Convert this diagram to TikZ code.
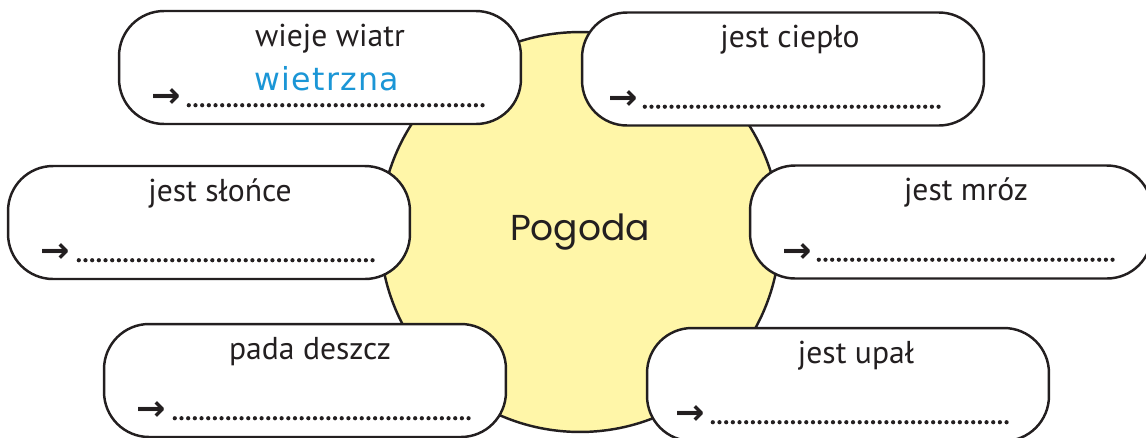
\documentclass[tikz,border=0pt]{standalone}
\usepackage{fontspec}
\setmainfont{PT Sans}
\newfontfamily\pogodafont{Poppins}
\newfontfamily\odpfont[LetterSpace=4]{DejaVu Sans}
\newfontfamily\strzfont{DejaVu Sans}
\usetikzlibrary{positioning, calc}

\definecolor{slonce}{RGB}{255,246,168}
\definecolor{tusz}{RGB}{35,31,32}
\definecolor{odpowiedz}{RGB}{27,150,214}

\tikzset{
    pole/.style={draw=tusz, line width=1.4pt, fill=white, rounded corners=0.9cm,
                 minimum width=8.04cm, minimum height=2.26cm},
    haslo/.style={anchor=base, text=tusz, inner sep=0pt, font=\fontsize{18}{21}\selectfont},
    strzalka/.style={anchor=west, text=tusz, inner sep=0pt, font=\strzfont\bfseries\fontsize{20}{23}\selectfont},
    kropki/.style={tusz, line width=2.4pt, line cap=round, dash pattern=on 0pt off 3.8pt},
}

\begin{document}
\begin{tikzpicture}[x=0.02cm, y=-0.02cm]
    \clip (0, 0) rectangle (1146, 437);

    % Kolo Pogoda
    \node[circle, draw=tusz, fill=slonce, line width=1.4pt, minimum size=8cm,
          text=tusz, font=\pogodafont\fontsize{20.5}{24}\selectfont] (pogoda) at (580, 232) {Pogoda};

    % Pola z haslami
    \node[pole] (wiatr)  at (320, 67.5) {};
    \node[pole] (cieplo) at (783, 69) {};
    \node[pole] (slonce) at (209, 222.5) {};
    \node[pole] (mroz)   at (951, 222) {};
    \node[pole] (deszcz) at (305, 380.5) {};
    \node[pole] (upal)   at (848, 384.5) {};

    \node[haslo] (wiatrH)  at ($(wiatr.north)+(10, 36.5)$)  {wieje wiatr};
    \node[haslo] (cieploH) at ($(cieplo.north)+(7, 36.5)$)  {jest ciepło};
    \node[haslo] (slonceH) at ($(slonce.north)+(11, 36.5)$) {jest słońce};
    \node[haslo] (mrozH)   at ($(mroz.north)+(15, 36.5)$)   {jest mróz};
    \node[haslo] (deszczH) at ($(deszcz.north)+(5, 36.5)$)  {pada deszcz};
    \node[haslo] (upalH)   at ($(upal.north)+(8, 36.5)$)    {jest upał};

    % Odpowiedz (przyklad)
    \node[anchor=base, inner sep=0pt, text=odpowiedz, font=\odpfont\fontsize{18}{21}\selectfont]
        (wiatrO) at ($(wiatr.north)+(7, 80.5)$) {wietrzna};

    % Strzalki i kropki
    \node[strzalka] (wiatrS)  at ($(wiatr.south west)+(33, -27)$)  {→};
    \node[strzalka] (cieploS) at ($(cieplo.south west)+(27, -27)$) {→};
    \node[strzalka] (slonceS) at ($(slonce.south west)+(33, -27)$) {→};
    \node[strzalka] (mrozS)   at ($(mroz.south west)+(33, -27)$)   {→};
    \node[strzalka] (deszczS) at ($(deszcz.south west)+(33, -27)$) {→};
    \node[strzalka] (upalS)   at ($(upal.south west)+(29, -27)$)   {→};

    \draw[kropki] ($(wiatr.south west)+(71, -20)$)  -- ++(297, 0);
    \draw[kropki] ($(cieplo.south west)+(64, -20)$) -- ++(297, 0);
    \draw[kropki] ($(slonce.south west)+(72, -20)$) -- ++(297, 0);
    \draw[kropki] ($(mroz.south west)+(70, -20)$)   -- ++(297, 0);
    \draw[kropki] ($(deszcz.south west)+(72, -20)$) -- ++(297, 0);
    \draw[kropki] ($(upal.south west)+(67, -20)$)   -- ++(297, 0);

\end{tikzpicture}
\end{document}
